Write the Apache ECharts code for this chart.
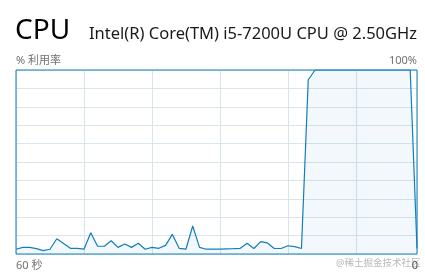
<!DOCTYPE html>
<html>
<head>
<meta charset="utf-8">
<script src="https://cdn.jsdelivr.net/npm/echarts@6/dist/echarts.min.js"></script>
<style>html,body{margin:0;padding:0;background:#fff;}#c{width:425px;height:277px;}</style>
</head>
<body>
<div id="c"></div>
<script>
// seconds index (0 = oldest visible sample), CPU utilisation in %
const sampleIndex = [0,1,2,3,4,5,6,7,8,9,10,11,12,13,14,15,16,17,18,19,20,21,22,23,24,25,26,27,28,29,30,31,32,33,34,35,36,37,38,39,40,41,42,43,44,45,46,47,48,49,50,51,52,53,54,55,56,57,58,59];
const cpuUsage = [2.6,3.6,3.6,2.9,1.8,2.6,8.3,5.7,3.1,3.1,2.6,11.6,4.2,4.2,7.2,3.6,5.4,3.6,5.8,2.6,3.6,3.1,4.7,10.7,3.1,2.6,15.2,3.6,2.6,2.6,2.6,2.8,2.9,3.1,5.8,3.0,6.7,6.0,3.0,3.0,4.5,4.0,3.0,94.7,100,100,100,100,100,100,100,100,100,100,100,100,100,100,100,3];
const yTicks = [0,10,20,30,40,50,60,70,80,90,100];
const title = 'CPU';
const cpuName = 'Intel(R) Core(TM) i5-7200U CPU @ 2.50GHz';
const yLabelTop = '% 利用率';
const yMaxLabel = '100%';
const xSpanLabel = '60 秒';
const yMinLabel = '0';
const watermark = '@稀土掘金技术社区';

const chart = echarts.init(document.getElementById('c'), null, {renderer: 'canvas'});
const font = '"Noto Sans", "Noto Sans CJK SC", sans-serif';
chart.setOption({
  animation: false,
  grid: {left: 16, right: 8, top: 70, bottom: 23, show: true, borderColor: '#117dbb', borderWidth: 1, backgroundColor: 'transparent', z: 5},
  xAxis: {
    type: 'value', min: 0, max: 59, interval: 10,
    axisLine: {show: false}, axisTick: {show: false}, axisLabel: {show: false},
    splitLine: {show: true, lineStyle: {color: '#d6e4ee', width: 1}}
  },
  yAxis: {
    type: 'value', min: yTicks[0], max: yTicks[yTicks.length - 1], interval: yTicks[1] - yTicks[0],
    axisLine: {show: false}, axisTick: {show: false}, axisLabel: {show: false},
    splitLine: {show: true, lineStyle: {color: '#d9e6ef', width: 1}}
  },
  series: [{
    type: 'line',
    data: sampleIndex.map((x, i) => [x, cpuUsage[i]]),
    showSymbol: false,
    clip: true,
    lineStyle: {color: '#117dbb', width: 1.2},
    areaStyle: {color: 'rgba(17,125,187,0.07)'},
    z: 3
  }],
  graphic: [
    {type: 'text', left: 15, top: 17, style: {text: title, font: '28px ' + font, fill: '#000'}},
    {type: 'text', right: 8, top: 26, style: {text: cpuName, font: '16.5px ' + font, fill: '#1a1a1a'}},
    {type: 'text', left: 16, top: 55, style: {text: yLabelTop, font: '11px ' + font, fill: '#707070'}},
    {type: 'text', right: 8, top: 55, style: {text: yMaxLabel, font: '11px ' + font, fill: '#707070'}},
    {type: 'text', left: 16, top: 260, style: {text: xSpanLabel, font: '11px ' + font, fill: '#707070'}},
    {type: 'text', left: 336, top: 259, style: {text: watermark, font: '9.5px ' + font, fill: '#b8b8b8'}},
    {type: 'text', right: 7, top: 260, style: {text: yMinLabel, font: '11px ' + font, fill: '#505050'}}
  ]
});
</script>
</body>
</html>
